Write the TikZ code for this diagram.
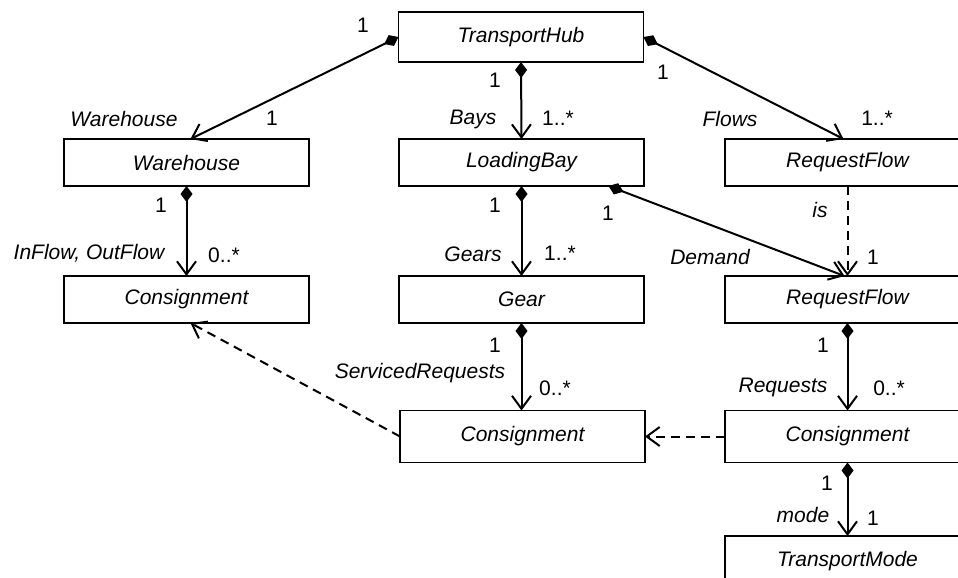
\documentclass[tikz,border=0pt]{standalone}
\usepackage{fontspec}
\setmainfont{Liberation Sans}
\usetikzlibrary{arrows.meta}
\newcommand\tam{\fontsize{21}{25}\selectfont}

\tikzset{
  clase/.style={draw, line width=1.4pt, minimum width=245pt, minimum height=47pt,
    inner sep=0pt, outer sep=0pt, font=\tam\itshape},
  comp/.style={line width=2pt,
    {Diamond[length=16pt,width=12pt]}-{Straight Barb[length=13pt,width=19pt]}},
  dep/.style={line width=2pt, dash pattern=on 9pt off 6pt,
    -{Straight Barb[length=13pt,width=19pt]}},
  mult/.style={inner sep=0pt, font=\tam},
  rol/.style={inner sep=0pt, font=\tam\itshape},
}

\begin{document}
\begin{tikzpicture}[x=1pt, y=-1pt]
  \clip (0,0) rectangle (958,578);
  % las clases, fila por fila
  \node[clase, minimum height=50pt] (hub) at (521,37) {TransportHub};
  \node[clase] (wh) at (186.5,162.5) {Warehouse};
  \node[clase] (bay) at (521.5,162.5) {LoadingBay};
  \node[clase] (rf) at (847.5,162.5) {RequestFlow};
  \node[clase] (consL) at (186.5,299.5) {Consignment};
  \node[clase] (gear) at (521.5,299.5) {Gear};
  \node[clase] (rf2) at (847.5,299.5) {RequestFlow};
  \node[clase, minimum height=52pt] (consM) at (522.5,436.5) {Consignment};
  \node[clase, minimum height=52pt] (consR) at (847.5,436.5) {Consignment};
  \node[clase, minimum height=50pt] (mode) at (847.5,561) {TransportMode};
  % las composiciones
  \draw[comp] (hub.west) -- ([xshift=4pt]wh.north);
  \draw[comp] (hub.south) -- (bay.north);
  \draw[comp] (hub.east) -- ([xshift=-4pt]rf.north);
  \draw[comp] (wh.south) -- (consL.north);
  \draw[comp] (bay.south) -- (gear.north);
  \draw[comp] ([xshift=87pt]bay.south) -- ([xshift=-3pt]rf2.north);
  \draw[comp] (gear.south) -- ([xshift=-1pt]consM.north);
  \draw[comp] (rf2.south) -- (consR.north);
  \draw[comp] (consR.south) -- (mode.north);
  % las dependencias
  \draw[dep] (rf.south) -- (rf2.north);
  \draw[dep] (consR.west) -- (consM.east);
  \draw[dep] (consM.west) -- ([xshift=4pt]consL.south);
  % multiplicidades y roles
  \node[mult] (m1) at (363,25) {1};
  \node[rol] (r1) at (124,119) {Warehouse};
  \node[mult] (m2) at (272,118) {1};
  \node[mult] (m3) at (495,80) {1};
  \node[rol] (r2) at (473,119) {Bays};
  \node[mult] (m4) at (558,118) {1..*};
  \node[mult] (m5) at (663,72) {1};
  \node[rol] (r3) at (730,119) {Flows};
  \node[mult] (m6) at (877,118) {1..*};
  \node[mult] (m7) at (161,205) {1};
  \node[rol] (r4) at (89,253) {InFlow, OutFlow};
  \node[mult] (m8) at (224,255) {0..*};
  \node[mult] (m9) at (495,205) {1};
  \node[rol] (r5) at (473,254) {Gears};
  \node[mult] (m10) at (560,253) {1..*};
  \node[mult] (m11) at (608,213) {1};
  \node[rol] (r6) at (710,257) {Demand};
  \node[rol] (r7) at (820,210) {is};
  \node[mult] (m12) at (873,257) {1};
  \node[mult] (m13) at (495,345) {1};
  \node[rol] (r8) at (420,373) {ServicedRequests};
  \node[mult] (m14) at (555,388) {0..*};
  \node[mult] (m15) at (823,345) {1};
  \node[rol] (r9) at (783,387) {Requests};
  \node[mult] (m16) at (889,388) {0..*};
  \node[mult] (m17) at (827,483) {1};
  \node[rol] (r10) at (803,515) {mode};
  \node[mult] (m18) at (873,518) {1};
\end{tikzpicture}
\end{document}
